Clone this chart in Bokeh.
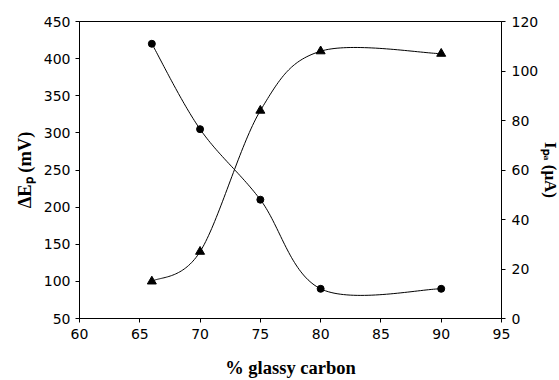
import numpy as np
from bokeh.plotting import figure
from bokeh.models import Range1d, LinearAxis, FixedTicker
from bokeh.embed import file_html
from bokeh.resources import INLINE

# ---- data ----
carbon_pct = [66, 70, 75, 80, 90]
delta_ep_mv = [420, 305, 210, 90, 90]
ipa_ua = [15, 27, 84, 108, 107]

x_ticks = [60, 65, 70, 75, 80, 85, 90, 95]
left_ticks = [50, 100, 150, 200, 250, 300, 350, 400, 450]
right_ticks = [0, 20, 40, 60, 80, 100, 120]


def smooth(xs, ys, n=40):
    """Excel-like smoothed line (Catmull-Rom Bezier through the data points)."""
    pts = np.column_stack([xs, ys]).astype(float)
    out = []
    m = len(pts)
    t = np.linspace(0, 1, n)[:, None]
    for i in range(m - 1):
        p0 = pts[max(i - 1, 0)]
        p1 = pts[i]
        p2 = pts[i + 1]
        p3 = pts[min(i + 2, m - 1)]
        c1 = p1 + (p2 - p0) / 6.0
        c2 = p2 - (p3 - p1) / 6.0
        seg = (1 - t) ** 3 * p1 + 3 * (1 - t) ** 2 * t * c1 + 3 * (1 - t) * t ** 2 * c2 + t ** 3 * p2
        out.append(seg if i == 0 else seg[1:])
    arr = np.vstack(out)
    return arr[:, 0], arr[:, 1]


p = figure(
    frame_width=422, frame_height=297,
    x_range=Range1d(60, 95), y_range=Range1d(50, 450),
    output_backend="svg", toolbar_location=None,
    min_border_left=79, min_border_right=58, min_border_top=21, min_border_bottom=62,
)
p.extra_y_ranges = {"ipa": Range1d(0, 120)}

p.xgrid.visible = False
p.ygrid.visible = False
p.outline_line_color = "black"
p.outline_line_width = 1
p.background_fill_color = "white"
p.border_fill_color = "white"

right_axis = LinearAxis(y_range_name="ipa")
p.add_layout(right_axis, "right")

tick_font = "DejaVu Sans"
title_font = "Liberation Serif"

for ax, ticks in ((p.xaxis[0], x_ticks), (p.yaxis[0], left_ticks), (right_axis, right_ticks)):
    ax.ticker = FixedTicker(ticks=ticks)
    ax.minor_tick_line_color = None
    ax.major_tick_in = 0
    ax.major_tick_out = 4
    ax.axis_line_color = "black"
    ax.major_tick_line_color = "black"
    ax.major_label_text_font = tick_font
    ax.major_label_text_font_size = "14px"
    ax.major_label_text_color = "black"
    ax.axis_label_text_font = title_font
    ax.axis_label_text_font_style = "bold"
    ax.axis_label_text_font_size = "18.5px"
    ax.axis_label_text_color = "black"

p.xaxis[0].axis_label = "% glassy carbon"
p.xaxis[0].major_label_standoff = 6
p.xaxis[0].axis_label_standoff = 16
p.yaxis[0].axis_label = "ΔEₚ (mV)"
p.yaxis[0].major_label_standoff = 5
p.yaxis[0].axis_label_standoff = 6
right_axis.axis_label = "Iₚₐ (μA)"
right_axis.axis_label_text_font_size = "17px"
right_axis.major_label_standoff = 6
right_axis.axis_label_standoff = 0

# ΔEp series (left axis)
sx, sy = smooth(carbon_pct, delta_ep_mv)
p.line(sx, sy, line_color="black", line_width=1)
p.scatter(carbon_pct, delta_ep_mv, marker="circle", size=7, color="black")

# Ipa series (right axis)
tx, ty = smooth(carbon_pct, ipa_ua)
p.line(tx, ty, line_color="black", line_width=1, y_range_name="ipa")
p.scatter(carbon_pct, ipa_ua, marker="triangle", size=9, color="black", y_range_name="ipa")

open("out.html", "w").write(file_html(p, INLINE))
